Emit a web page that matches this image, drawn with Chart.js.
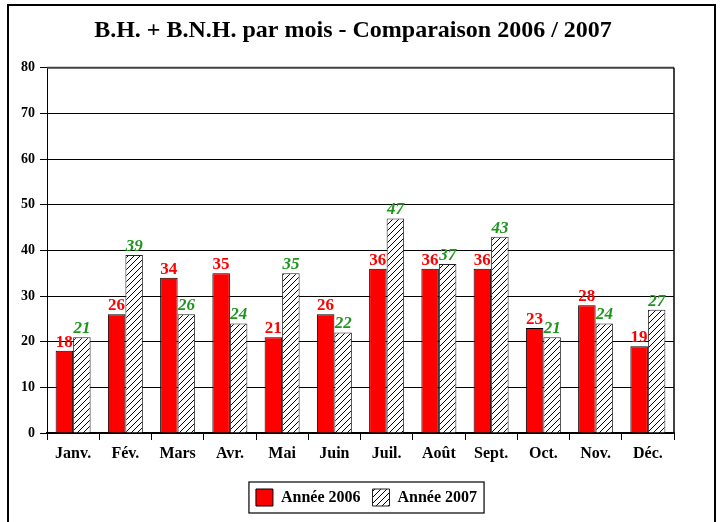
<!DOCTYPE html>
<html>
<head>
<meta charset="utf-8">
<script src="https://cdn.jsdelivr.net/npm/chart.js@4.4.0/dist/chart.umd.min.js"></script>
<style>
  html, body { margin: 0; padding: 0; background: #fff; }
</style>
</head>
<body>
<canvas id="graphique" width="722" height="522"></canvas>
<script>
const mois = ["Janv.", "Fév.", "Mars", "Avr.", "Mai", "Juin", "Juil.", "Août", "Sept.", "Oct.", "Nov.", "Déc."];
const annee2006 = [18, 26, 34, 35, 21, 26, 36, 36, 36, 23, 28, 19];
const annee2007 = [21, 39, 26, 24, 35, 22, 47, 37, 43, 21, 24, 27];
const titre = "B.H. + B.N.H. par mois - Comparaison 2006 / 2007";
const yMin = 0, yMax = 80, yPas = 10;

const police = '"Liberation Serif", "Times New Roman", serif';

// motif hachuré pour 2007
function hachures() {
  const c = document.createElement("canvas");
  c.width = 6; c.height = 6;
  const g = c.getContext("2d");
  g.fillStyle = "#fff";
  g.fillRect(0, 0, 6, 6);
  g.strokeStyle = "#000";
  g.lineWidth = 1;
  g.beginPath();
  g.moveTo(0, 6); g.lineTo(6, 0);
  g.moveTo(-1, 1); g.lineTo(1, -1);
  g.moveTo(5, 7); g.lineTo(7, 5);
  g.stroke();
  return g.createPattern(c, "repeat");
}

// titre et légende un peu décalés vers la droite, comme dans l'original
const decalage = {
  id: "decalage",
  afterLayout(chart) {
    const t = chart.titleBlock;
    if (t) { t.left += 12; t.right += 12; }
    const lg = chart.legend;
    if (lg) { lg.left += 6; lg.right += 6; }
  }
};

// cadre extérieur, cadre du tracé, boîte de la légende
const cadre = {
  id: "cadre",
  afterDraw(chart) {
    const ctx = chart.ctx;
    ctx.save();
    ctx.strokeStyle = "#000";
    ctx.lineWidth = 2;
    ctx.strokeRect(8, 5, 707, 530);
    const a = chart.chartArea;
    ctx.lineWidth = 2;
    ctx.strokeStyle = "#404040";
    ctx.beginPath();
    ctx.moveTo(a.left, a.top); ctx.lineTo(a.right, a.top);
    ctx.stroke();
    ctx.strokeStyle = "#000";
    ctx.lineWidth = 1.5;
    ctx.beginPath();
    ctx.moveTo(a.right, a.top); ctx.lineTo(a.right, a.bottom);
    ctx.stroke();
    const boxes = chart.legend.legendHitBoxes;
    if (boxes && boxes.length) {
      const g = Math.min(...boxes.map(b => b.left)) - 7;
      const d = Math.max(...boxes.map(b => b.left + b.width)) + 7;
      const h = Math.min(...boxes.map(b => b.top)) - 7;
      const bas = Math.max(...boxes.map(b => b.top + b.height)) + 7;
      ctx.lineWidth = 1.2;
      ctx.strokeStyle = "#000";
      ctx.strokeRect(g, h, d - g, bas - h);
    }
    ctx.restore();
  }
};

// valeurs au-dessus des barres
const etiquettes = {
  id: "etiquettes",
  afterDatasetsDraw(chart) {
    const ctx = chart.ctx;
    ctx.save();
    ctx.textAlign = "center";
    ctx.textBaseline = "bottom";
    chart.data.datasets.forEach((ds, i) => {
      const meta = chart.getDatasetMeta(i);
      ctx.fillStyle = i === 0 ? "#ff0000" : "#1e961e";
      ctx.font = (i === 0 ? "bold " : "italic bold ") + "17px " + police;
      meta.data.forEach((bar, j) => {
        ctx.fillText(ds.data[j], bar.x, bar.y);
      });
    });
    ctx.restore();
  }
};

new Chart(document.getElementById("graphique"), {
  type: "bar",
  data: {
    labels: mois,
    datasets: [
      {
        label: "Année 2006",
        data: annee2006,
        backgroundColor: "#ff0000",
        borderColor: "#000",
        borderWidth: 1,
        categoryPercentage: 0.67,
        barPercentage: 1
      },
      {
        label: "Année 2007",
        data: annee2007,
        backgroundColor: hachures(),
        borderColor: "#222",
        borderWidth: 1,
        categoryPercentage: 0.67,
        barPercentage: 1
      }
    ]
  },
  options: {
    responsive: false,
    animation: false,
    layout: { padding: { left: 8, right: 48, top: 5, bottom: 6 } },
    scales: {
      x: {
        grid: { drawOnChartArea: false, drawTicks: true, tickLength: 7, color: "#000", offset: true },
        border: { color: "#000", width: 2 },
        ticks: { color: "#000", font: { family: police, size: 16, weight: "bold" }, padding: 4, maxRotation: 0 },
        afterFit(scale) { scale.height = 44; }
      },
      y: {
        min: yMin,
        max: yMax,
        ticks: { stepSize: yPas, color: "#000", font: { family: police, size: 14, weight: "bold" }, padding: 5 },
        grid: { color: "#000", lineWidth: 1, tickLength: 7, tickColor: "#000" },
        border: { color: "#000", width: 1 },
        afterFit(scale) { scale.width = 39; }
      }
    },
    plugins: {
      title: {
        display: true,
        text: titre,
        color: "#000",
        font: { family: police, size: 24, weight: "bold" },
        padding: { top: 11, bottom: 23 }
      },
      legend: {
        position: "bottom",
        fullSize: false,
        labels: {
          color: "#000",
          font: { family: police, size: 16, weight: "bold" },
          boxWidth: 17,
          boxHeight: 17,
          padding: 12
        }
      },
      tooltip: { enabled: false }
    }
  },
  plugins: [decalage, cadre, etiquettes]
});
</script>
</body>
</html>
